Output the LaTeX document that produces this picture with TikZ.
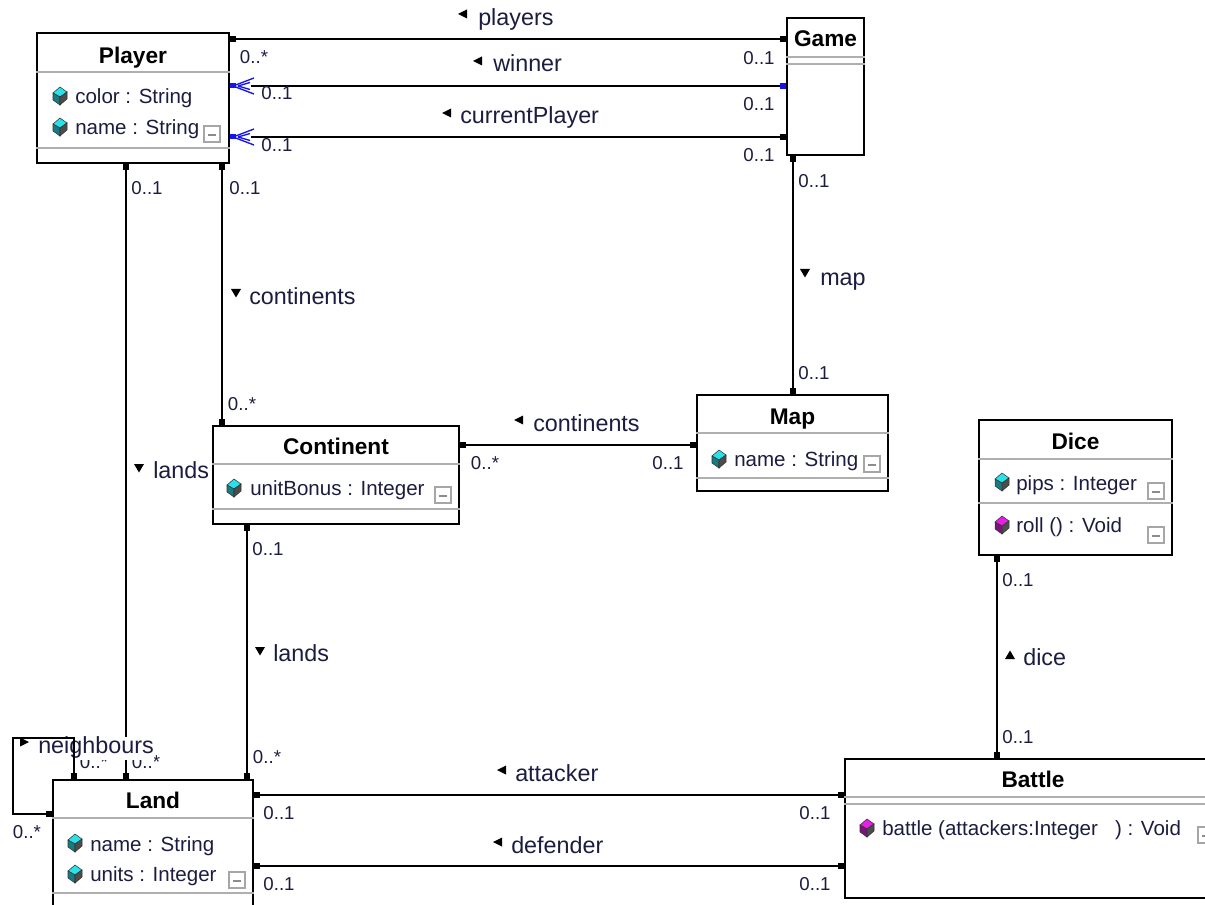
\documentclass[tikz,border=0pt]{standalone}
\usepackage{fontspec}
\setmainfont{Liberation Sans}
\usetikzlibrary{arrows.meta,fit,calc}
\definecolor{txt}{RGB}{28,28,64}
\definecolor{sepc}{RGB}{175,175,175}
\definecolor{gemc}{RGB}{40,225,235}
\definecolor{gemm}{RGB}{230,30,230}
\definecolor{barbc}{RGB}{20,20,235}
\newcommand\fRole{\fontsize{17.5}{20}\selectfont}
\newcommand\fMul{\fontsize{14}{16}\selectfont}
\newcommand\fTitle{\fontsize{17}{20}\selectfont\bfseries}
\newcommand\fAttr{\fontsize{15.4}{18}\selectfont}
\tikzset{
  sqt/.tip={Square[length=4.5pt,width=4.5pt]},
  bsq/.tip={Square[length=4.5pt,width=4.5pt,color=barbc,fill=barbc]},
  cls/.style={draw=black, line width=1.5pt, inner sep=0pt, fill=white},
  sepl/.style={draw=sepc, line width=1.3pt},
  conn/.style={draw=black, line width=1.4pt},
  role/.style={font=\fRole, text=txt, anchor=west, inner sep=0pt, text height=12.5pt, text depth=0pt},
  mul/.style={font=\fMul, text=txt, inner sep=0pt, text height=10pt, text depth=0pt},
  ctitle/.style={font=\fTitle, text=black, inner sep=0pt, text height=12.2pt, text depth=0pt},
  attr/.style={font=\fAttr, text=txt, anchor=west, inner sep=0pt, text height=11.2pt, text depth=0pt},
  gem/.pic={
    \filldraw[draw=black!80, line width=0.4pt, fill=#1] (7,-9) -- (14,-4) -- (7,1) -- (0,-3) -- cycle;
    \filldraw[draw=black!80, line width=0.4pt, fill=#1!55!black] (0,-3) -- (7,1) -- (7,9) -- (0,4) -- cycle;
    \filldraw[draw=black!80, line width=0.4pt, fill=black!70] (7,1) -- (14,-4) -- (14,3) -- (7,9) -- cycle;
  },
  coll/.pic={
    \draw[draw=black!35, line width=1pt] (0,0) rectangle (16,16);
    \draw[draw=black!45, line width=1pt] (4,9) -- (12,9);
  },
  tril/.pic={\fill[black] (0,0) -- (9,-4.5) -- (9,4.5) -- cycle;},
  trir/.pic={\fill[black] (0,-4.5) -- (9,0) -- (0,4.5) -- cycle;},
  trid/.pic={\fill[black] (-5,-4) -- (5,-4) -- (0,4.5) -- cycle;},
  triu/.pic={\fill[black] (-5,4) -- (5,4) -- (0,-4.5) -- cycle;},
  barbpic/.pic={
    \fill[barbc] (0,-2.5) rectangle (6,2.5);
    \draw[barbc, line width=1pt] (3,0) -- (24,-8) (3,0) -- (24,8) (8,0) -- (20,-3.5) (8,0) -- (20,3.5);
  }
}
\begin{document}
\begin{tikzpicture}[x=0.75pt,y=-0.75pt]
\useasboundingbox (0,0) rectangle (1205,905);
\clip (0,0) rectangle (1205,905);
\fill[white] (0,0) rectangle (1205,905);

% ---------- classes ----------
\node[cls, fit={(37,33) (229,163)}] (player) {};
\node[cls, fit={(787,18) (864,155)}] (game) {};
\node[cls, fit={(697,395) (888,491)}] (map) {};
\node[cls, fit={(213,426) (459,524)}] (continent) {};
\node[cls, fit={(979,420) (1172,555)}] (dice) {};
\node[cls, fit={(845,759) (1230,898)}] (battle) {};
\node[cls, fit={(53,780) (253,925)}] (land) {};

% separators
\draw[sepl] (player.west |- 0,72) -- (player.east |- 0,72);
\draw[sepl] (player.west |- 0,148) -- (player.east |- 0,148);
\draw[sepl] (game.west |- 0,57) -- (game.east |- 0,57);
\draw[sepl] (game.west |- 0,64) -- (game.east |- 0,64);
\draw[sepl] (map.west |- 0,433) -- (map.east |- 0,433);
\draw[sepl] (map.west |- 0,478) -- (map.east |- 0,478);
\draw[sepl] (continent.west |- 0,464) -- (continent.east |- 0,464);
\draw[sepl] (continent.west |- 0,509) -- (continent.east |- 0,509);
\draw[sepl] (dice.west |- 0,459) -- (dice.east |- 0,459);
\draw[sepl] (dice.west |- 0,503) -- (dice.east |- 0,503);
\draw[sepl] (battle.west |- 0,797) -- (battle.east |- 0,797);
\draw[sepl] (battle.west |- 0,804) -- (battle.east |- 0,804);
\draw[sepl] (land.west |- 0,818) -- (land.east |- 0,818);
\draw[sepl] (land.west |- 0,893) -- (land.east |- 0,893);

% titles
\node[ctitle] (tplayer) at (133,55) {Player};
\node[ctitle] (tgame) at (825.5,38.5) {Game};
\node[ctitle] (tmap) at (792.5,416) {Map};
\node[ctitle] (tcont) at (336,446) {Continent};
\node[ctitle] (tdice) at (1075.5,441.5) {Dice};
\node[ctitle] (tbattle) at (1033,779.5) {Battle};
\node[ctitle] (tland) at (153,800) {Land};

% attributes / operations
\pic at (53,96) {gem=gemc};
\node[attr] (pa1) at (75,96.5) {color : String};
\pic at (53,127) {gem=gemc};
\node[attr] (pa2) at (75,127.5) {name : String};
\pic at (204,126) {coll};

\pic at (712,459) {gem=gemc};
\node[attr] (ma1) at (734,459.5) {name : String};
\pic at (864,456) {coll};

\pic at (227,488) {gem=gemc};
\node[attr] (ca1) at (250,488.5) {unitBonus : Integer};
\pic at (435,487) {coll};

\pic at (995,482) {gem=gemc};
\node[attr] (da1) at (1016,483) {pips : Integer};
\pic at (1148,483) {coll};
\pic at (995,525) {gem=gemm};
\node[attr] (do1) at (1016,525.5) {roll () : Void};
\pic at (1148,527) {coll};

\pic at (860,828) {gem=gemm};
\node[attr] (bo1) at (882,828) {battle (attackers:Integer\ \ \ ) : Void};
\pic at (1198,827) {coll};

\pic at (68,843) {gem=gemc};
\node[attr] (la1) at (90,844) {name : String};
\pic at (68,874) {gem=gemc};
\node[attr] (la2) at (90,874) {units : Integer};
\pic at (229,872) {coll};

% ---------- connectors ----------
\draw[conn, sqt-sqt] (player.east |- 0,39) -- (game.west |- 0,39);
\draw[conn, -bsq, shorten <=16pt] (player.east |- 0,86) -- (game.west |- 0,86);
\pic at (player.east |- 0,86) {barbpic};
\draw[conn, -sqt, shorten <=16pt] (player.east |- 0,137) -- (game.west |- 0,137);
\pic at (player.east |- 0,137) {barbpic};
\draw[conn, sqt-sqt] (game.south -| 793,0) -- (map.north -| 793,0);
\draw[conn, sqt-sqt] (player.south -| 222,0) -- (continent.north -| 222,0);
\draw[conn, sqt-sqt] (player.south -| 126,0) -- (land.north -| 126,0);
\draw[conn, sqt-sqt] (continent.east |- 0,445) -- (map.west |- 0,445);
\draw[conn, sqt-sqt] (continent.south -| 247,0) -- (land.north -| 247,0);
\draw[conn, sqt-sqt] (dice.south -| 997,0) -- (battle.north -| 997,0);
\draw[conn, sqt-sqt] (land.east |- 0,795) -- (battle.west |- 0,795);
\draw[conn, sqt-sqt] (land.east |- 0,866) -- (battle.west |- 0,866);

% ---------- role labels ----------
\pic at (458,14) {tril};
\node[role] (rplayers) at (478,17) {players};
\pic at (473,61) {tril};
\node[role] (rwinner) at (493,63) {winner};
\pic at (442,113) {tril};
\node[role] (rcurrent) at (460,115) {currentPlayer};
\pic at (236,293) {trid};
\node[role] (rcont1) at (249,296) {continents};
\pic at (805,273) {trid};
\node[role] (rmap) at (820,277) {map};
\pic at (514,420) {tril};
\node[role] (rcont2) at (533,423) {continents};
\pic at (139,468) {trid};
\node[role] (rlands1) at (153,470) {lands};
\pic at (260,651) {trid};
\node[role] (rlands2) at (273,653) {lands};
\pic at (1010,655) {triu};
\node[role] (rdice) at (1023,657) {dice};
\pic at (497,770) {tril};
\node[role] (ratt) at (515,773) {attacker};
\pic at (493,842) {tril};
\node[role] (rdef) at (511,845) {defender};

% ---------- multiplicities ----------
\node[mul] (m1) at (254,57) {0..*};
\node[mul] (m2) at (277,93) {0..1};
\node[mul] (m3) at (277,145) {0..1};
\node[mul] (m4) at (759,58) {0..1};
\node[mul] (m5) at (759,104) {0..1};
\node[mul] (m6) at (759,155) {0..1};
\node[mul] (m7) at (814,181) {0..1};
\node[mul] (m8) at (814,373) {0..1};
\node[mul] (m9) at (147,188) {0..1};
\node[mul] (m10) at (245,188) {0..1};
\node[mul] (m11) at (242,404) {0..*};
\node[mul] (m12) at (485,463) {0..*};
\node[mul] (m13) at (668,463) {0..1};
\node[mul] (m14) at (268,549) {0..1};
\node[mul] (m15) at (267,757) {0..*};
\node[mul] (m16) at (279,813) {0..1};
\node[mul] (m17) at (279,884) {0..1};
\node[mul] (m18) at (815,813) {0..1};
\node[mul] (m19) at (815,884) {0..1};
\node[mul] (m20) at (1018,580) {0..1};
\node[mul] (m21) at (1018,737) {0..1};
\node[mul] (m22) at (27,832) {0..*};
\node[mul] (m23) at (94,762) {0..*};
\node[mul] (m24) at (146,762) {0..*};

% neighbours label (its white ground hides parts of the lines and labels behind it) and self loop
\node[role, fill=white, text depth=4.6pt] (rneigh) at (38,748.6) {neighbours};
\pic at (20,742) {trir};
\draw[conn, sqt-sqt] (land.north -| 74,0) -- (74,738) -- (13,738) -- (13,814) -- (land.west |- 0,814);
\end{tikzpicture}
\end{document}
